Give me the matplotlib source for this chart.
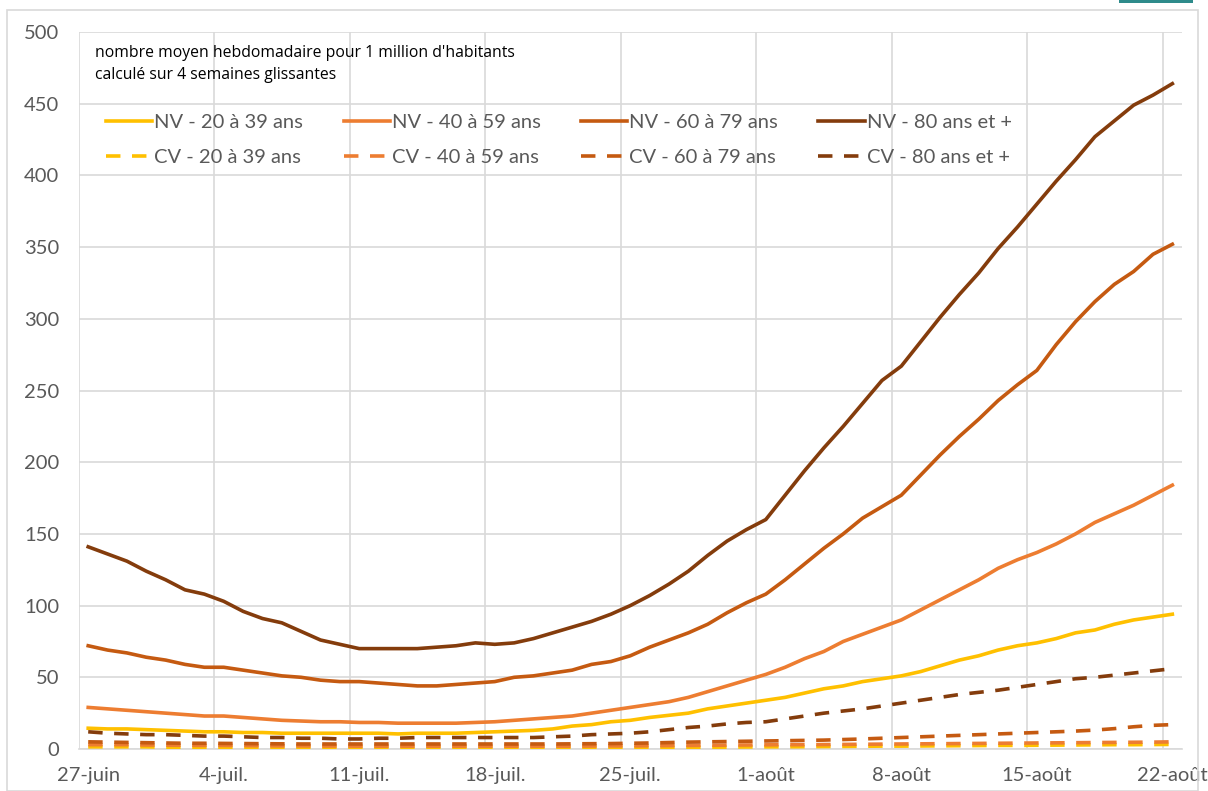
import matplotlib.pyplot as plt
from matplotlib.patches import Rectangle
import numpy as np

# daily values, 27-juin -> 22-aout (57 days)
nv_20_39 = [14.5, 14, 14, 13.5, 13, 12.5, 12, 12, 11.5, 11.5, 11, 11, 11, 11, 11, 11, 10.5, 11, 11, 11,
            11.5, 12, 12.5, 13, 14, 16, 17, 19, 20, 22, 23.5, 25, 28, 30, 32, 34, 36, 39, 42, 44,
            47, 49, 51, 54, 58, 62, 65, 69, 72, 74, 77, 81, 83, 87, 90, 92, 94]
nv_40_59 = [29, 28, 27, 26, 25, 24, 23, 23, 22, 21, 20, 19.5, 19, 19, 18.5, 18.5, 18, 18, 18, 18,
            18.5, 19, 20, 21, 22, 23, 25, 27, 29, 31, 33, 36, 40, 44, 48, 52, 57, 63, 68, 75,
            80, 85, 90, 97, 104, 111, 118, 126, 132, 137, 143, 150, 158, 164, 170, 177, 184]
nv_60_79 = [72, 69, 67, 64, 62, 59, 57, 57, 55, 53, 51, 50, 48, 47, 47, 46, 45, 44, 44, 45,
            46, 47, 50, 51, 53, 55, 59, 61, 65, 71, 76, 81, 87, 95, 102, 108, 118, 129, 140, 150,
            161, 169, 177, 191, 205, 218, 230, 243, 254, 264, 282, 298, 312, 324, 333, 345, 352]
nv_80 = [141, 136, 131, 124, 118, 111, 108, 103, 96, 91, 88, 82, 76, 73, 70, 70, 70, 70, 71, 72,
         74, 73, 74, 77, 81, 85, 89, 94, 100, 107, 115, 124, 135, 145, 153, 160, 177, 194, 210, 225,
         241, 257, 267, 284, 301, 317, 332, 349, 364, 380, 396, 411, 427, 438, 449, 456, 464]

cv_20_39 = [1.5, 1.5, 1.5, 1.5, 1.2, 1.2, 1.2, 1.2, 1, 1, 1, 1, 1, 1, 1, 1, 1, 1, 1, 1,
            1, 1, 1, 1, 1, 1, 1, 1, 1, 1.2, 1.2, 1.2, 1.3, 1.3, 1.4, 1.5, 1.5, 1.6, 1.7, 1.8,
            1.9, 2, 2, 2.1, 2.2, 2.3, 2.4, 2.5, 2.5, 2.6, 2.7, 2.8, 2.9, 3, 3, 3.1, 3.2]
cv_40_59 = [3, 3, 3, 2.8, 2.7, 2.6, 2.5, 2.5, 2.4, 2.3, 2.2, 2.2, 2.1, 2.1, 2, 2, 2, 2, 2, 2,
            2, 2, 2, 2, 2, 2, 2.1, 2.2, 2.2, 2.3, 2.4, 2.5, 2.6, 2.7, 2.8, 2.9, 3, 3, 3.1, 3.2,
            3.3, 3.4, 3.5, 3.6, 3.7, 3.8, 3.9, 4, 4.1, 4.2, 4.3, 4.4, 4.5, 4.6, 4.7, 4.8, 5]
cv_60_79 = [5, 4.8, 4.6, 4.4, 4.2, 4, 4, 3.9, 3.8, 3.7, 3.6, 3.5, 3.5, 3.5, 3.5, 3.5, 3.5, 3.5, 3.5, 3.5,
            3.5, 3.5, 3.5, 3.5, 3.5, 3.6, 3.7, 3.8, 4, 4.2, 4.5, 4.8, 5, 5.2, 5.4, 5.6, 5.8, 6, 6.2, 6.6,
            7, 7.5, 8, 8.5, 9, 9.5, 10, 10.5, 11, 11.5, 12, 12.5, 13.2, 14.2, 15.5, 16.5, 17]
cv_80 = [12, 11, 10.5, 10, 10, 9.5, 9, 9, 8.5, 8, 8, 7.5, 7.5, 7, 7, 7.5, 7.5, 8, 8, 8,
         8, 8, 8, 8, 8.5, 9, 10, 10.5, 11, 12, 13.5, 15, 16, 17.5, 18.5, 19, 21, 23, 25, 26.5,
         28, 30, 32, 34, 36, 38, 39.5, 41, 43, 45, 47, 49, 50, 51.5, 53, 54.5, 56]

labels = ['20 à 39 ans', '40 à 59 ans', '60 à 79 ans', '80 ans et +']
colors = ['#FFC000', '#ED7D31', '#C55A11', '#843C0C']
tick_labels = ['27-juin', '4-juil.', '11-juil.', '18-juil.', '25-juil.',
               '1-août', '8-août', '15-août', '22-août']

plt.rcParams['font.family'] = ['Lato', 'DejaVu Sans']

fig = plt.figure(figsize=(12.08, 7.91), dpi=100)
ax = fig.add_axes([0.065, 0.0531, 0.9785 - 0.065, 0.9595 - 0.0531])

# chart frame + little teal mark at the top right
fig.patches.append(Rectangle((7 / 1208, 0), 1191 / 1208, 781 / 791, transform=fig.transFigure,
                             fill=False, edgecolor='#D9D9D9', linewidth=1.2))
fig.patches.append(Rectangle((1119 / 1208, 788 / 791), 74 / 1208, 3 / 791, transform=fig.transFigure,
                             facecolor='#2E8B8B', edgecolor='none'))

days = np.arange(len(nv_80))
nv = [nv_20_39, nv_40_59, nv_60_79, nv_80]
cv = [cv_20_39, cv_40_59, cv_60_79, cv_80]

handles = []
for i in range(4):
    h1, = ax.plot(days, nv[i], color=colors[i], lw=2.6, label='NV - ' + labels[i],
                  solid_joinstyle='round', zorder=3)
    handles.append(h1)
    h2, = ax.plot(days, cv[i], color=colors[i], lw=2.6, ls=(0, (4, 3.2)), label='CV - ' + labels[i],
                  dash_capstyle='butt', zorder=3)
    handles.append(h2)

ax.set_xlim(-0.5, 56.5)
ax.set_ylim(0, 500)
ax.set_yticks(np.arange(0, 501, 50))
ax.set_xticks(np.arange(0, 57, 7))
ax.set_xticklabels(tick_labels)
ax.set_xticks(np.arange(-0.5, 56, 7), minor=True)
ax.grid(False)
ax.grid(axis='y', which='major', color='#D9D9D9', lw=1.2)
ax.grid(axis='x', which='minor', color='#D9D9D9', lw=1.2)
ax.tick_params(which='both', length=0)
ax.tick_params(axis='both', labelsize=14.5, labelcolor='#595959')
ax.tick_params(axis='y', pad=14)
ax.tick_params(axis='x', pad=13)
for s in ['top', 'right', 'left']:
    ax.spines[s].set_visible(False)
ax.spines['bottom'].set_color('#D9D9D9')
ax.spines['bottom'].set_linewidth(1.2)

fig.text(95 / 1208, 1 - 53 / 791, "nombre moyen hebdomadaire pour 1 million d'habitants",
         fontsize=11.3, va='center', ha='left', family=['Open Sans', 'DejaVu Sans'])
fig.text(95 / 1208, 1 - 75 / 791, 'calculé sur 4 semaines glissantes',
         fontsize=11.3, va='center', ha='left', family=['Open Sans', 'DejaVu Sans'])

leg = ax.legend(handles=handles, ncol=4, loc='upper left', bbox_to_anchor=(96 / 1208, 1 - 104 / 791),
                bbox_transform=fig.transFigure, frameon=False, fontsize=14.5, handlelength=2.3,
                handletextpad=0.1, columnspacing=2.0, labelspacing=0.9, borderpad=0)
for t in leg.get_texts():
    t.set_color('#595959')

fig.savefig('out.png', dpi=100)
